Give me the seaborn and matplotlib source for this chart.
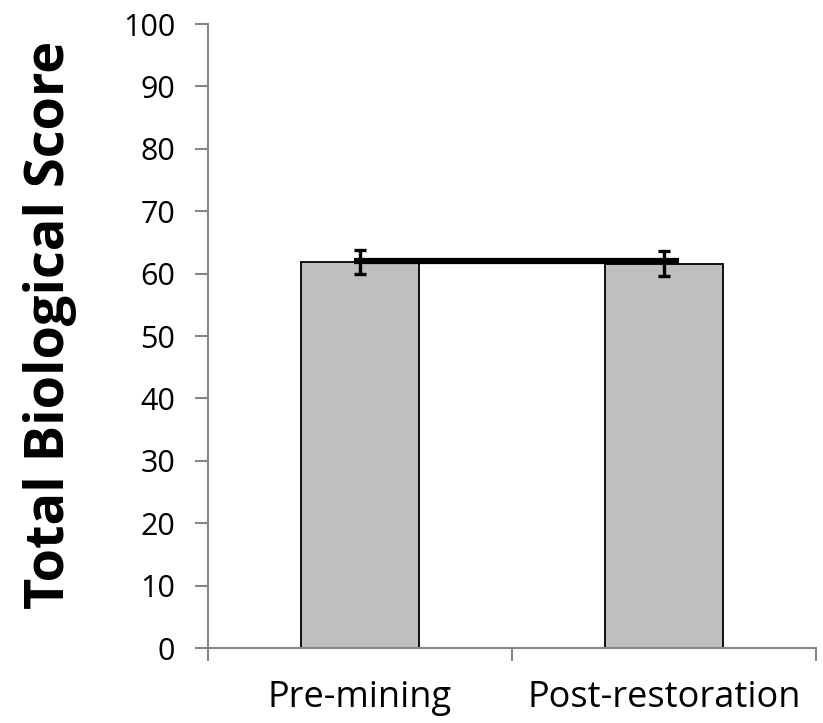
import matplotlib
matplotlib.use('Agg')
import matplotlib.pyplot as plt
import matplotlib.patheffects as pe
import seaborn as sns
import pandas as pd

# 数据
sites = ['Pre-mining', 'Post-restoration']
scores = [61.9, 61.6]
errors = [1.9, 2.0]
line_x = [-0.02, 1.05]
line_y = [62.0, 62.0]
yticks = [0, 10, 20, 30, 40, 50, 60, 70, 80, 90, 100]

sns.set_style('white')
plt.rcParams['font.family'] = ['Open Sans', 'DejaVu Sans']

df = pd.DataFrame({'site': sites, 'score': scores})

fig = plt.figure(figsize=(8.23, 7.23), dpi=100)
ax = fig.add_axes([0.2527, 0.1037, 0.7388, 0.8631])

sns.barplot(x='site', y='score', data=df, color='#BFBFBF', edgecolor='black',
            linewidth=1.3, width=0.39, saturation=1, errorbar=None, ax=ax)
ax.errorbar(range(len(sites)), scores, yerr=errors, fmt='none', ecolor='black',
            elinewidth=2.4, capsize=4.5, capthick=2.4, zorder=4)
ax.plot(line_x, line_y, color='black', linewidth=4.5, solid_capstyle='butt', zorder=5,
        path_effects=[pe.SimplePatchShadow(offset=(2, -3), alpha=0.35), pe.Normal()])

ax.set_xlim(-0.5, 1.5)
ax.set_ylim(0, 100)
ax.set_yticks(yticks)
ax.set_xticks(range(len(sites)))
ax.set_xticks([-0.5, 0.5, 1.5], minor=True)
ax.tick_params(axis='x', which='major', length=0, pad=23, labelsize=26, labelcolor='black')
ax.tick_params(axis='x', which='minor', length=9, width=1.5, color='#868686', direction='out', bottom=True)
ax.tick_params(axis='y', length=9.5, width=1.5, color='#868686', direction='out', left=True,
               labelsize=22, pad=14, labelcolor='black')

for s in ['top', 'right']:
    ax.spines[s].set_visible(False)
for s in ['left', 'bottom']:
    ax.spines[s].set_color('#868686')
    ax.spines[s].set_linewidth(1.5)

ax.set_xlabel('')
ax.set_ylabel('Total Biological Score', fontsize=39, fontweight='bold', color='black')
ax.yaxis.set_label_coords(-0.216, 0.518)

plt.savefig('out.png', dpi=100)
